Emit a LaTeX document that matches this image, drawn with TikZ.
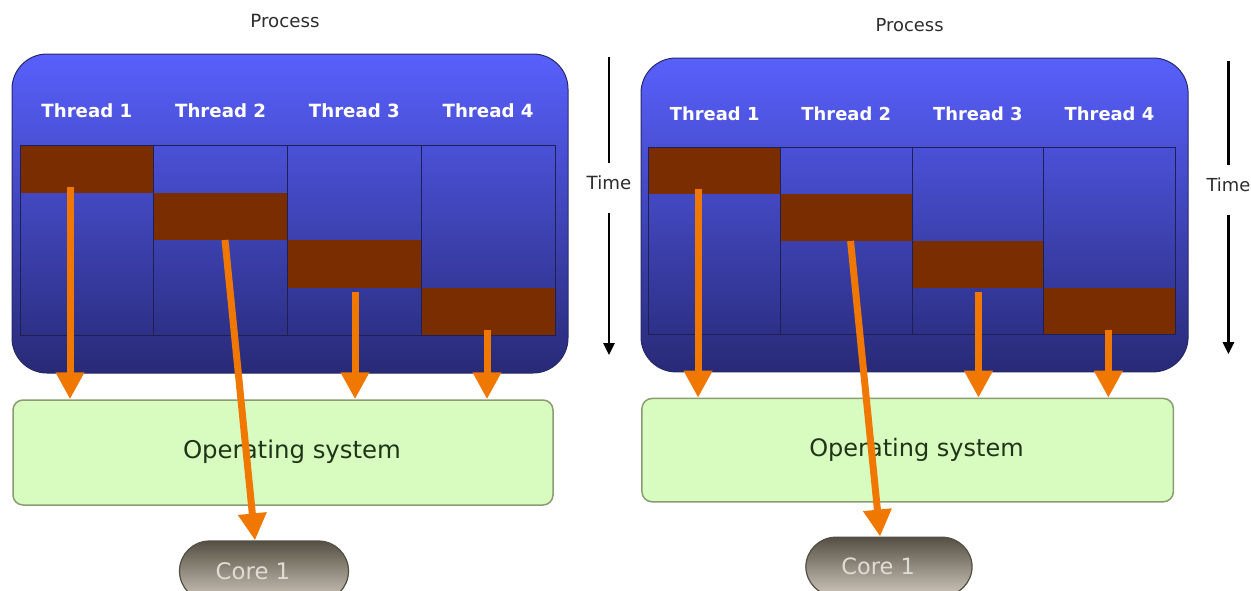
\documentclass[tikz,border=0pt]{standalone}
\usepackage{fontspec}
\setmainfont{DejaVu Sans}
\usetikzlibrary{arrows.meta,shadings,calc}

\definecolor{boxtop}{RGB}{88,96,252}
\definecolor{boxbot}{RGB}{40,42,118}
\definecolor{boxedge}{RGB}{38,40,105}
\definecolor{gridcol}{RGB}{30,32,84}
\definecolor{runblk}{RGB}{122,46,0}
\definecolor{flowcol}{RGB}{240,120,0}
\definecolor{osfill}{RGB}{216,252,192}
\definecolor{osedge}{RGB}{138,156,112}
\definecolor{ostxt}{RGB}{32,52,24}
\definecolor{coretop}{RGB}{86,80,68}
\definecolor{corebot}{RGB}{206,199,186}
\definecolor{coreedge}{RGB}{82,78,68}
\definecolor{coretxt}{RGB}{222,220,212}
\definecolor{lbltxt}{RGB}{45,45,45}

\tikzset{
  procbox/.style={draw=boxedge, line width=1pt, rounded corners=35pt,
    top color=boxtop, bottom color=boxbot},
  blk/.style={fill=runblk, inner sep=0pt, outer sep=0pt,
    minimum width=133.75pt, minimum height=47.5pt},
  gridln/.style={draw=gridcol, line width=1pt},
  thr/.style={text=white, font=\fontsize{18.2}{21}\selectfont\bfseries, inner sep=0pt},
  lbl/.style={text=lbltxt, font=\fontsize{18.2}{21}\selectfont, inner sep=0pt},
  osbox/.style={draw=osedge, fill=osfill, line width=1.5pt, rounded corners=10pt,
    minimum width=540pt, minimum height=105pt, inner sep=0pt},
  ostext/.style={text=ostxt, font=\fontsize{24.4}{28}\selectfont, inner sep=0pt},
  corebox/.style={draw=coreedge, line width=1.2pt, rounded corners=30pt,
    top color=coretop, bottom color=corebot,
    minimum width=169pt, minimum height=60pt, inner sep=0pt},
  coretext/.style={text=coretxt, font=\fontsize{22.8}{26}\selectfont, inner sep=0pt},
  flow/.style={draw=flowcol, line width=7pt, -{Triangle[width=27pt,length=27pt]}},
  timeline/.style={draw=black, line width=2.6pt},
}

% One process panel: threads, time slices, OS layer and the single core
\newcommand\threadpanel[1]{%
  \node[lbl] (#1proc) at (273,-33) {Process};
  \path[procbox] (0,0) rectangle (556,319);
  % time slices of each thread
  \node[blk, anchor=north west] (#1b1) at (8,91) {};
  \node[blk, anchor=north west] (#1b2) at (141.75,138.5) {};
  \node[blk, anchor=north west] (#1b3) at (275.5,186) {};
  \node[blk, anchor=north west] (#1b4) at (409.25,233.5) {};
  % columns
  \draw[gridln] (8,91) rectangle (543,281);
  \foreach \cx in {141.75,275.5,409.25} \draw[gridln] (\cx,91) -- (\cx,281);
  % thread titles
  \node[thr] (#1t1) at (74.9,57) {Thread 1};
  \node[thr] (#1t2) at (208.6,57) {Thread 2};
  \node[thr] (#1t3) at (342.4,57) {Thread 3};
  \node[thr] (#1t4) at (476.1,57) {Thread 4};
  % time axis
  \coordinate (#1ttop) at (597,3);
  \node[lbl] (#1time) at (597,129) {Time};
  \coordinate (#1tbot) at (597,301);
  \draw[timeline] (#1ttop) -- ([yshift=13pt]#1time.north);
  \draw[timeline, -{Triangle[width=11pt,length=12pt]}] ([yshift=-23pt]#1time.south) -- (#1tbot);
  % operating system layer
  \node[osbox] (#1os) at (271,398.5) {};
  \node[ostext] (#1ostxt) at (280,398) {Operating system};
  % core
  \node[corebox] (#1core) at (252,517) {};
  \node[coretext] (#1coretxt) at (241,517) {Core 1};
  % calls out of each time slice
  \coordinate (#1s1) at (58,133);
  \coordinate (#1s2) at (213,186);
  \coordinate (#1s3) at (343,238);
  \coordinate (#1s4) at (475,276);
  \draw[flow] (#1s1) -- (#1s1 |- #1os.north);
  \draw[flow] (#1s3) -- (#1s3 |- #1os.north);
  \draw[flow] (#1s4) -- (#1s4 |- #1os.north);
  \draw[flow] (#1s2) -- ([xshift=-9pt]#1core.north);
}

\begin{document}
\begin{tikzpicture}[x=1pt,y=-1pt]
  \fill[white] (0,0) rectangle (1251,590);
  \useasboundingbox (0,0) rectangle (1251,590);
  \begin{scope}[shift={(12,54)}]
    \threadpanel{L}
  \end{scope}
  \begin{scope}[shift={(641,58)}, scale=0.984, transform shape]
    \threadpanel{R}
  \end{scope}
\end{tikzpicture}
\end{document}
